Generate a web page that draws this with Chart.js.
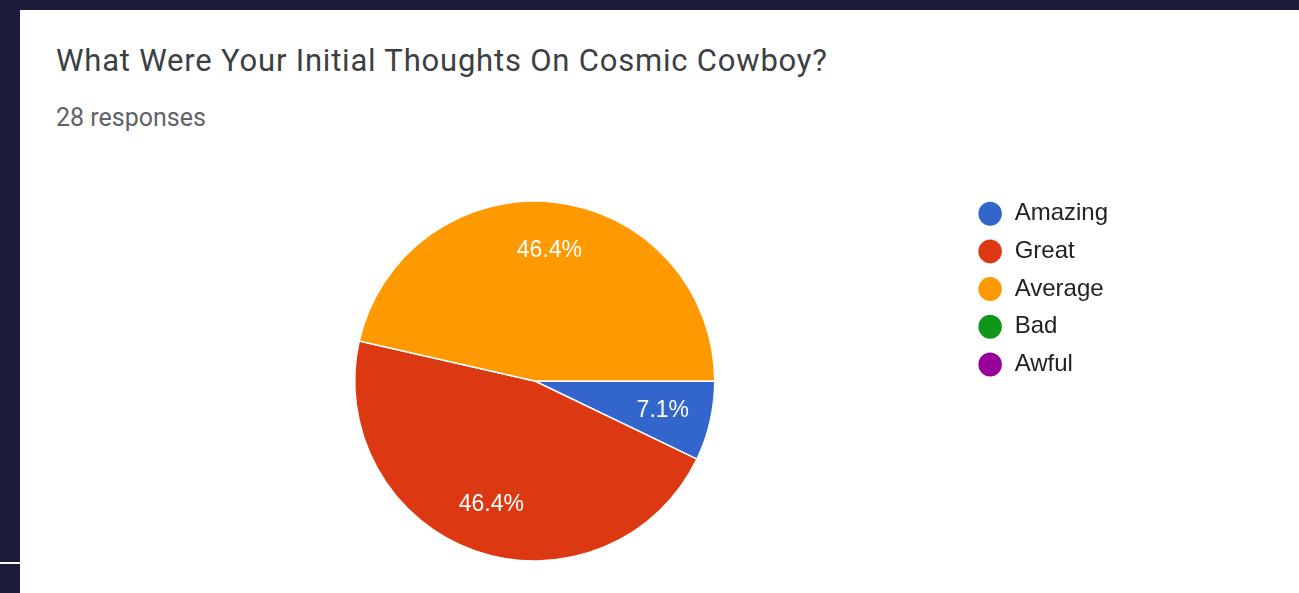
<!DOCTYPE html>
<html>
<head>
<meta charset="utf-8">
<script src="https://cdn.jsdelivr.net/npm/chart.js@4.4.1/dist/chart.umd.min.js"></script>
<style>
  html, body { margin: 0; padding: 0; }
  body { width: 1299px; height: 593px; background: #1c1b3b; position: relative; overflow: hidden; }
  #card { position: absolute; left: 20px; top: 10px; width: 1279px; height: 583px; background: #ffffff; }
  #line { position: absolute; left: 0; top: 562px; width: 20px; height: 2px; background: #ffffff; }
  #title { position: absolute; left: 56px; top: 45px; font-family: Roboto, sans-serif; font-size: 31px; line-height: 31px; letter-spacing: 0.8px; color: #3c4043; white-space: nowrap; }
  #sub { position: absolute; left: 56px; top: 105px; font-family: Roboto, sans-serif; font-size: 25px; line-height: 25px; color: #5f6368; white-space: nowrap; }
  #wrap { position: absolute; left: 20px; top: 188px; width: 1279px; height: 386px; }
</style>
</head>
<body>
<div id="card"></div>
<div id="line"></div>
<div id="title">What Were Your Initial Thoughts On Cosmic Cowboy?</div>
<div id="sub">28 responses</div>
<div id="wrap"><canvas id="c"></canvas></div>
<script>
const categories = ["Amazing", "Great", "Average", "Bad", "Awful"];
const counts = [2, 13, 13, 0, 0];
const colors = ["#3366cc", "#dc3912", "#ff9900", "#109618", "#990099"];

const sliceLabels = {
  id: 'sliceLabels',
  afterDatasetsDraw(chart) {
    const ctx = chart.ctx;
    const ds = chart.data.datasets[0];
    const total = ds.data.reduce((a, b) => a + b, 0);
    const meta = chart.getDatasetMeta(0);
    ctx.save();
    ctx.fillStyle = '#ffffff';
    ctx.font = '23px "Liberation Sans", Arial, sans-serif';
    ctx.textAlign = 'center';
    ctx.textBaseline = 'middle';
    meta.data.forEach((arc, i) => {
      const v = ds.data[i];
      if (!v) return;
      const p = arc.getProps(['x', 'y', 'startAngle', 'endAngle', 'outerRadius'], true);
      const mid = (p.startAngle + p.endAngle) / 2;
      const r = p.outerRadius * 0.73;
      const pct = (v / total * 100).toFixed(1) + '%';
      ctx.fillText(pct, p.x + Math.cos(mid) * r, p.y + Math.sin(mid) * r);
    });
    ctx.restore();
  }
};

new Chart(document.getElementById('c'), {
  type: 'pie',
  data: {
    labels: categories,
    datasets: [{
      data: counts,
      backgroundColor: colors,
      borderColor: '#ffffff',
      borderWidth: 1.5,
      radius: 180
    }]
  },
  options: {
    responsive: true,
    maintainAspectRatio: false,
    animation: false,
    rotation: 90,
    layout: { padding: { left: 85.5, right: 181, top: 0, bottom: 0 } },
    plugins: {
      tooltip: { enabled: false },
      legend: {
        position: 'right',
        align: 'start',
        labels: {
          usePointStyle: true,
          pointStyle: 'circle',
          boxHeight: 18,
          pointStyleWidth: 25,
          padding: 13.7,
          color: '#222222',
          font: { family: '"Liberation Sans", Arial, sans-serif', size: 24 }
        }
      }
    }
  },
  plugins: [sliceLabels]
});
</script>
</body>
</html>
